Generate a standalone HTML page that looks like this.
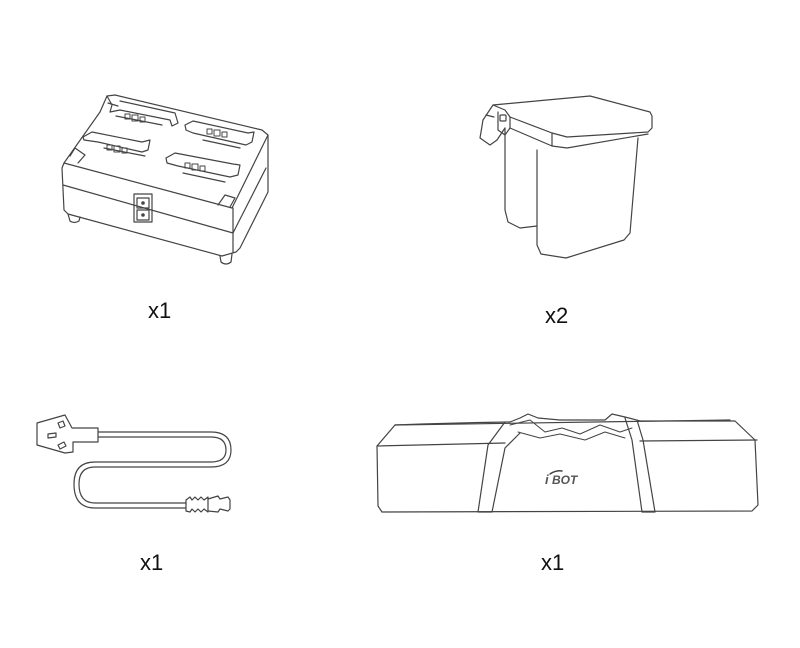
<!DOCTYPE html>
<html><head><style>
html,body{margin:0;padding:0;background:#fff;}
svg{display:block}
text{font-family:"Liberation Sans",sans-serif;}
</style></head><body>
<svg width="800" height="648" viewBox="0 0 800 648" fill="none" stroke="#444" stroke-width="1.2" stroke-linejoin="round" stroke-linecap="round">
<!-- Charger -->
<g>
<path d="M107,96 L115,95 L262,130 L268,135 L268,192 L240,248 L236,252 L222,256 L68,214 L64,210 L62,168 L64,163 L100,112 Z"/>
<path d="M64,163 L232,208 L268,135"/>
<path d="M63,185 L233,233 L266,168"/>
<path d="M233,208 L233,252"/>
<path d="M70,156 L75,148 L85,155 L78,163"/>
<path d="M218,205 L225,195 L235,198 L230,207"/>
<path d="M107,96 L112,105 L110,112 L120,110 L170,120 L172,126 L178,123 L175,113 L120,101"/>
<path d="M108,103 L118,106"/>
<path d="M83,137 L92,132 L142,142 L150,140 L148,150 L142,152 L98,142 L84,140 Z"/>
<path d="M185,125 L193,121 L248,133 L254,132 L252,142 L246,145 L193,133 L186,130 Z"/>
<path d="M166,158 L175,153 L233,164 L240,165 L238,175 L230,177 L178,166 L167,163 Z"/>
<path d="M116,116 L162,125 M104,148 L145,156 M203,140 L240,148 M183,173 L225,182"/>
<g stroke-width="1">
<rect x="125" y="114" width="5" height="5"/><rect x="132" y="115" width="6" height="6"/><rect x="140" y="117" width="5" height="5"/>
<rect x="107" y="145" width="5" height="5"/><rect x="114" y="146" width="6" height="6"/><rect x="122" y="148" width="5" height="5"/>
<rect x="207" y="129" width="5" height="5"/><rect x="214" y="130" width="6" height="6"/><rect x="222" y="132" width="5" height="5"/>
<rect x="185" y="163" width="5" height="5"/><rect x="192" y="164" width="6" height="6"/><rect x="200" y="166" width="5" height="5"/>
</g>
<rect x="134" y="194" width="18" height="28"/><rect x="137" y="198" width="12" height="10"/><rect x="137" y="210" width="12" height="10"/>
<circle cx="143" cy="203" r="1.2" fill="#444"/><circle cx="143" cy="215" r="1.2" fill="#444"/>
<path d="M68,214 L70,221 Q74,224 79,221 L80,217"/>
<path d="M220,256 L221,262 Q226,266 231,262 L232,254"/>
</g>
<!-- Bin -->
<g>
<path d="M493,105 L590,96 L650,112 L652,116 L652,128 L648,132 L567,137 L552,133 L510,117 L505,110 Z"/>
<path d="M510,117 L510,128 L552,146 L567,148 L648,134"/>
<path d="M552,133 L552,146"/>
<path d="M537,150 L537,245 L541,254 L566,258 L624,240 L630,233 L638,138"/>
<path d="M505,128 L505,210 L508,222 L520,228 L537,226"/>
<path d="M493,105 L483,120 L480,138 L490,145 L497,140 L505,128"/>
<path d="M498,112 L498,130 L505,135 L510,128 M486,115 L494,117"/>
<rect x="500" y="115" width="6" height="6" rx="1"/>
</g>
<!-- Cable -->
<g>
<path d="M37,423 L65,415 L72,428 L98,428 L98,442 L73,442 L73,452 L65,453 L37,445 Z"/>
<path d="M48,434 L56,433 L56,437 L48,438 Z M58,423 L63,421 L65,426 L60,428 Z M58,445 L64,442 L66,446 L60,449 Z"/>
<path d="M98,432 L211,432 Q231,432 231,450 Q231,467 211,467 L95,467 Q79,467 79,484 Q79,503 95,503 L186,503" stroke-width="1.2"/>
<path d="M98,437 L211,437 Q226,437 226,450 Q226,462 211,462 L95,462 Q74,462 74,484 Q74,508 95,508 L186,508" stroke-width="1.2"/>
<path d="M186,500 L186,511 M186,500 L190,497 L192,500 L195,497 L198,500 L201,497 L204,500 L208,497 L208,512 L204,509 L201,512 L198,509 L195,512 L192,509 L190,512 L186,511"/>
<path d="M208,499 L218,496 L220,499 L228,497 L230,500 L230,509 L228,511 L220,509 L218,512 L208,511"/>
</g>
<!-- Bag -->
<g>
<path d="M395,425 Q450,423 510,422 L520,418 L528,414 L538,418 L560,420 L605,420 L612,414 L625,417 L640,421 L735,421 L755,440 L758,505 L752,511 L382,512 L378,506 L377,446 Z"/>
<path d="M377,446 L505,443 M640,441 L757,440"/>
<path d="M395,425 L730,420"/>
<path d="M505,422 L488,445 L478,512 L492,512 L505,448 L520,433"/>
<path d="M625,418 L632,440 L642,512 L655,512 L643,440 L637,420"/>
<path d="M510,425 L530,420 L545,432 L562,428 L580,434 L600,425 L620,432 L632,428 M518,432 L540,438 L560,434 L585,440 L605,432 L625,438" stroke-width="1"/>
<text x="545" y="484" font-size="13" font-weight="bold" font-style="italic" fill="#555" stroke="none">i</text>
<text x="552" y="484" font-size="12" font-weight="bold" font-style="italic" fill="#555" stroke="none">BOT</text>
<path d="M550,474 Q556,470 562,471" stroke-width="1.5"/>
</g>
<g fill="#111" stroke="none" font-size="22">
<text x="148" y="318">x1</text>
<text x="545" y="323">x2</text>
<text x="140" y="570">x1</text>
<text x="541" y="570">x1</text>
</g>
</svg>
</body></html>
